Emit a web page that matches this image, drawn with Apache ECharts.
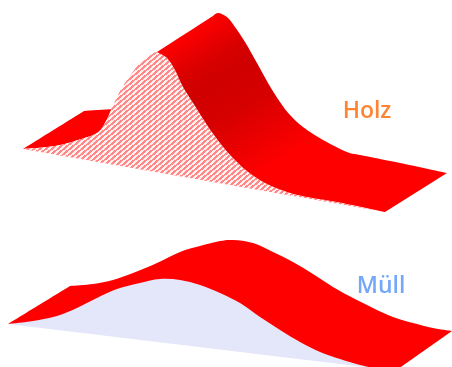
<!DOCTYPE html>
<html>
<head>
<meta charset="utf-8">
<title>Holz Müll</title>
<style>
	html, body { margin: 0; padding: 0; background: #fff; }
	#chart { width: 452px; height: 367px; filter: blur(0.5px); }
</style>
<script src="https://cdn.jsdelivr.net/npm/echarts@6/dist/echarts.min.js"></script>
</head>
<body>
<div id="chart"></div>
<script>
// outlines, x grows right, y grows down
const holzFlapX = [ 23, 84, 112 ]
const holzFlapY = [ 149, 111, 109 ]

const holzFrontX = [ 23, 55, 78, 97, 105, 112, 120, 132, 143, 157, 167, 175, 183, 195, 207, 220, 232, 247, 265, 287, 307, 337, 385 ]
const holzFrontY = [ 149, 146, 140, 133, 123, 108, 91, 73, 60, 52, 58, 70, 87, 106, 125, 143, 157, 171, 183, 192, 197, 202, 212 ]

const holzRidgeStartX = [ 157, 213 ]
const holzRidgeStartY = [ 52, 16 ]

const holzRidgeX = [ 213, 218, 227, 235, 245, 257, 268, 280, 290, 303, 323, 347, 360, 400, 447 ]
const holzRidgeY = [ 16, 13, 17, 27, 42, 63, 83, 102, 115, 127, 140, 152, 155, 163, 173 ]

const muellFrontX = [ 8, 33, 57, 77, 97, 117, 140, 160, 180, 200, 220, 240, 260, 280, 300, 320, 340, 360, 373 ]
const muellFrontY = [ 324, 321, 316, 308, 298, 289, 283, 279, 280, 285, 293, 303, 317, 330, 342, 352, 359, 365, 368 ]

const muellSideX = [ 8, 70 ]
const muellSideY = [ 324, 286 ]

const muellRidgeX = [ 70, 93, 113, 133, 157, 180, 200, 220, 233, 253, 273, 293, 313, 333, 353, 373, 393, 413, 433, 452 ]
const muellRidgeY = [ 286, 284, 280, 273, 263, 252, 246, 241, 240, 243, 252, 262, 274, 287, 298, 308, 317, 323, 328, 331 ]

const muellCornerX = [ 398, 373 ]
const muellCornerY = [ 369, 369 ]

const labelNames = [ 'Holz', 'Müll' ]
const labelX = [ 367, 381 ]
const labelY = [ 111, 286 ]
const labelColors = [ '#ff6400', '#5292f6' ]

const zip = (xs, ys) => xs.map((x, i) => [ x, ys[i] ])

// red stripes running up to the right
const makeHatch = () => {
	const tile = document.createElement('canvas')
	tile.width = 6
	tile.height = 5
	const ctx = tile.getContext('2d')
	for (let x = 0; x < 6; x++) {
		for (let y = 0; y < 5; y++) {
			ctx.fillStyle = (5 * x + 6 * y) % 30 < 15 ? '#ff8888' : '#fff0f0'
			ctx.fillRect(x, y, 1, 1)
		}
	}
	return { image: tile, repeat: 'repeat' }
}

// shade bands run along the ridge, dark in the steep part
const holzShade = (api) => {
	const a = api.coord([ 188, 32 ])
	const b = api.coord([ 285, 188 ])
	return new echarts.graphic.LinearGradient(a[0], a[1], b[0], b[1], [
		{ offset: 0, color: '#ff0000' },
		{ offset: 0.2, color: '#d80000' },
		{ offset: 0.3, color: '#d00000' },
		{ offset: 0.5, color: '#d60000' },
		{ offset: 0.7, color: '#ec0000' },
		{ offset: 0.87, color: '#ff0000' },
		{ offset: 1, color: '#ff0000' }
	], true)
}

// catmull-rom through the read points, only for the drawing of the edge
const curveTo = (pts) => {
	let d = ''
	for (let i = 0; i < pts.length - 1; i++) {
		const p0 = pts[Math.max(i - 1, 0)]
		const p1 = pts[i]
		const p2 = pts[i + 1]
		const p3 = pts[Math.min(i + 2, pts.length - 1)]
		const c1 = [ p1[0] + (p2[0] - p0[0]) / 6, p1[1] + (p2[1] - p0[1]) / 6 ]
		const c2 = [ p2[0] - (p3[0] - p1[0]) / 6, p2[1] - (p3[1] - p1[1]) / 6 ]
		d += ` C${c1[0]} ${c1[1]} ${c2[0]} ${c2[1]} ${p2[0]} ${p2[1]}`
	}
	return d
}

// runs: list of outlines, each one drawn as a curve and joined with a corner
const surface = (runs, fill) => ({
	type: 'custom',
	coordinateSystem: 'cartesian2d',
	silent: true,
	animation: false,
	data: [ 0 ],
	renderItem: (params, api) => {
		let d = ''
		runs.forEach((run, i) => {
			const pts = run.map((p) => api.coord(p))
			d += `${i === 0 ? 'M' : ' L'}${pts[0][0]} ${pts[0][1]}` + curveTo(pts)
		})
		return {
			type: 'path',
			shape: { pathData: d + ' Z' },
			style: { fill: typeof fill === 'function' ? fill(api) : fill }
		}
	}
})

const holzFlap = zip(holzFlapX, holzFlapY)
const holzFront = zip(holzFrontX, holzFrontY)
const muellFront = zip(muellFrontX, muellFrontY)

const options = {
	animation: false,
	grid: { left: 0, right: 0, top: 0, bottom: 0 },
	xAxis: { type: 'value', min: 0, max: 452, show: false },
	yAxis: { type: 'value', min: 0, max: 367, inverse: true, show: false },
	series: [
		surface([ holzFlap.slice(0, 2), holzFlap.slice(1), holzFront.slice(0, 6).reverse() ], '#ff0000'),
		surface([ holzFront ], makeHatch()),
		surface([
			zip(holzRidgeStartX, holzRidgeStartY),
			zip(holzRidgeX, holzRidgeY),
			holzFront.slice(9).reverse()
		], holzShade),
		surface([ muellFront ], '#e4e6fa'),
		surface([
			zip(muellSideX, muellSideY),
			zip(muellRidgeX, muellRidgeY),
			zip(muellCornerX, muellCornerY),
			muellFront.slice().reverse()
		], '#ff0000'),
		{
			type: 'scatter',
			silent: true,
			symbolSize: 0,
			data: labelNames.map((name, i) => ({
				name,
				value: [ labelX[i], labelY[i] ],
				label: { color: labelColors[i] }
			})),
			label: {
				show: true,
				position: 'inside',
				formatter: '{b}',
				fontFamily: 'Open Sans',
				fontSize: 23,
				fontWeight: 600
			}
		}
	]
}

echarts.init(document.getElementById('chart')).setOption(options)
</script>
</body>
</html>
